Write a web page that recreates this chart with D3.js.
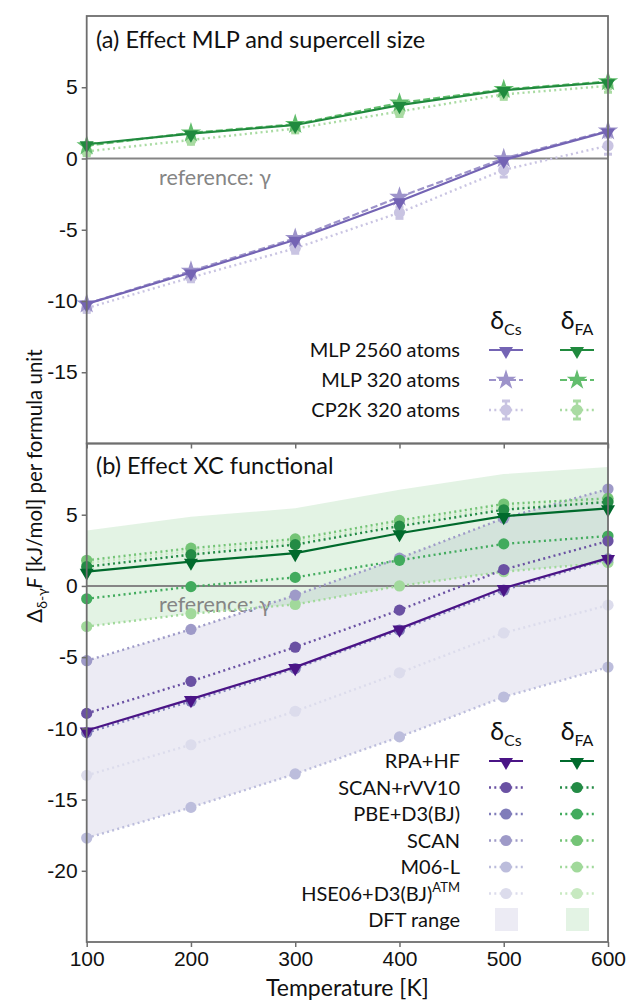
<!DOCTYPE html>
<html>
<head>
<meta charset="utf-8">
<script src="https://cdn.jsdelivr.net/npm/d3@7/dist/d3.min.js"></script>
<style>
  body { margin: 0; background: #fff; }
  svg { font-family: Lato, "Open Sans", "DejaVu Sans", sans-serif; }
</style>
</head>
<body>
<svg id="chart" width="629" height="1001"></svg>
<script>
// temperatures [K]
var temps = [100, 200, 300, 400, 500, 600];
var xTicks = [100, 200, 300, 400, 500, 600];
var yTicksA = [-15, -10, -5, 0, 5];
var yTicksB = [-20, -15, -10, -5, 0, 5];

// panel (a): effect of MLP and supercell size
var mlp2560Cs = [-10.2, -8.0, -5.7, -3.0, -0.1, 1.9];
var mlp2560FA = [1.0, 1.75, 2.35, 3.75, 4.8, 5.35];
var mlp320Cs  = [-10.2, -7.9, -5.6, -2.7, 0.0, 1.95];
var mlp320FA  = [0.9, 1.8, 2.4, 3.9, 4.85, 5.4];
var cp2kCs    = [-10.5, -8.35, -6.3, -3.8, -0.8, 0.9];
var cp2kFA    = [0.5, 1.3, 2.1, 3.3, 4.5, 5.1];
var cp2kErrCs = [0.3, 0.3, 0.35, 0.4, 0.5, 0.6];
var cp2kErrFA = [0.3, 0.3, 0.3, 0.35, 0.35, 0.45];
var legendA   = ["MLP 2560 atoms", "MLP 320 atoms", "CP2K 320 atoms"];

// panel (b): effect of XC functional
var rpaCs   = [-10.15, -7.95, -5.7, -3.0, -0.15, 1.95];
var rpaFA   = [1.0, 1.7, 2.3, 3.7, 4.9, 5.45];
var scanVVCs = [-8.95, -6.7, -4.3, -1.7, 1.15, 3.15];
var scanVVFA = [1.35, 2.2, 2.9, 4.2, 5.35, 5.9];
var pbeCs   = [-10.3, -8.1, -5.8, -3.1, -0.3, 1.9];
var pbeFA   = [-0.9, -0.05, 0.6, 1.8, 2.95, 3.5];
var scanCs  = [-5.25, -3.05, -0.65, 1.95, 4.75, 6.8];
var scanFA  = [1.8, 2.65, 3.3, 4.6, 5.75, 6.15];
var m06Cs   = [-17.7, -15.55, -13.2, -10.6, -7.8, -5.7];
var m06FA   = [-2.85, -1.95, -1.3, 0.0, 1.0, 1.65];
var hseCs   = [-13.3, -11.15, -8.8, -6.1, -3.3, -1.35];
var hseFA   = [1.6, 2.45, 3.1, 4.4, 5.55, 6.0];
var dftLowCs  = m06Cs;
var dftHighCs = scanCs;
var dftLowFA  = m06FA;
var dftHighFA = [3.9, 4.85, 5.45, 6.75, 7.85, 8.35];
var legendB = ["RPA+HF", "SCAN+rVV10", "PBE+D3(BJ)", "SCAN", "M06-L", "HSE06+D3(BJ)", "DFT range"];

var svg = d3.select("#chart");

var x = d3.scaleLinear().domain([100, 600]).range([86.7, 608]);
var yA = d3.scaleLinear().domain([-20, 10]).range([443.5, 16]);
var yB = d3.scaleLinear().domain([-25, 10]).range([942, 443.5]);

var axisGray = "#6e6e6e";
var refGray = "#858585";
var fsTick = 21, fsLegend = 20, fsTitle = 23.5, fsLabel = 23;

var triDown = d3.symbol().type(d3.symbolTriangle).size(85);
var star = d3.symbol().type(d3.symbolStar).size(130);

function drawMarker(g, shape, cx, cy, color) {
  if (shape == "tri") {
    g.append("path").attr("d", triDown())
      .attr("transform", "translate(" + cx + "," + (cy + 1) + ") rotate(180)")
      .attr("fill", color);
  } else if (shape == "star") {
    g.append("path").attr("d", star())
      .attr("transform", "translate(" + cx + "," + cy + ")")
      .attr("fill", color);
  } else {
    g.append("circle").attr("cx", cx).attr("cy", cy).attr("r", 5.6).attr("fill", color);
  }
}

function dashFor(style) {
  if (style == "dash") return "7,3";
  if (style == "dot") return "2,3.3";
  return null;
}

function drawSeries(g, y, vals, color, style, shape, err) {
  var line = d3.line().x(function(d, i) { return x(temps[i]); }).y(function(d) { return y(d); });
  g.append("path").datum(vals)
    .attr("d", line)
    .attr("fill", "none")
    .attr("stroke", color)
    .attr("stroke-width", style == "dot" ? 2.4 : 2.2)
    .attr("stroke-dasharray", dashFor(style));
  if (err) {
    vals.forEach(function(v, i) {
      var cx = x(temps[i]);
      g.append("line").attr("x1", cx).attr("x2", cx)
        .attr("y1", y(v - err[i])).attr("y2", y(v + err[i]))
        .attr("stroke", color).attr("stroke-width", 2.5);
      [v - err[i], v + err[i]].forEach(function(e) {
        g.append("line").attr("x1", cx - 4).attr("x2", cx + 4)
          .attr("y1", y(e)).attr("y2", y(e))
          .attr("stroke", color).attr("stroke-width", 3);
      });
    });
  }
  vals.forEach(function(v, i) {
    drawMarker(g, shape, x(temps[i]), y(v), color);
  });
}

function drawFrame(y, top, bottom, ticks, showX) {
  var g = svg.append("g");
  var yAxis = d3.axisLeft(y).tickValues(ticks).tickSize(5).tickPadding(4)
    .tickFormat(function(d) { return d < 0 ? "-" + Math.abs(d) : d; });
  var ga = g.append("g").attr("transform", "translate(" + x.range()[0] + ",0)").call(yAxis);
  ga.select(".domain").remove();
  ga.selectAll("line").attr("stroke", axisGray).attr("stroke-width", 1.5);
  ga.selectAll("text").attr("font-size", fsTick).attr("fill", "#111").attr("font-family", null);

  var xAxis = d3.axisBottom(x).tickValues(xTicks).tickSize(5).tickPadding(4)
    .tickFormat(showX ? d3.format("d") : "");
  var gx = g.append("g").attr("transform", "translate(0," + bottom + ")").call(xAxis);
  gx.select(".domain").remove();
  gx.selectAll("line").attr("stroke", axisGray).attr("stroke-width", 1.5);
  gx.selectAll("text").attr("font-size", fsTick).attr("fill", "#111").attr("font-family", null);

  g.append("rect")
    .attr("x", x.range()[0]).attr("y", top)
    .attr("width", x.range()[1] - x.range()[0]).attr("height", bottom - top)
    .attr("fill", "none").attr("stroke", axisGray).attr("stroke-width", 1.8);
}

function refLine(g, y, labelY) {
  g.append("line")
    .attr("x1", x(100)).attr("x2", x(600))
    .attr("y1", y(0)).attr("y2", y(0))
    .attr("stroke", refGray).attr("stroke-width", 2);
  g.append("text").attr("x", 159).attr("y", labelY)
    .attr("font-size", 21.5).attr("fill", refGray)
    .text("reference: \u03b3");
}

function legendHeader(g, cx, yb) {
  [["Cs", cx], ["FA", cx + 71]].forEach(function(h) {
    var t = g.append("text").attr("x", h[1]).attr("y", yb)
      .attr("text-anchor", "middle").attr("font-size", 25).attr("fill", "#111");
    t.append("tspan").text("\u03b4");
    t.append("tspan").attr("font-size", 16).attr("dy", 6).text(h[0]);
  });
}

function legendRow(g, cx, ry, label, cColor, fColor, style, shape, err) {
  g.append("text").attr("x", 460).attr("y", ry).attr("dy", "0.36em")
    .attr("text-anchor", "end").attr("font-size", fsLegend).attr("fill", "#111")
    .text(label);
  [[cx, cColor], [cx + 71, fColor]].forEach(function(h) {
    g.append("line").attr("x1", h[0] - 17).attr("x2", h[0] + 17)
      .attr("y1", ry).attr("y2", ry)
      .attr("stroke", h[1]).attr("stroke-width", style == "dot" ? 2.4 : 2.2)
      .attr("stroke-dasharray", dashFor(style));
    if (err) {
      g.append("line").attr("x1", h[0]).attr("x2", h[0]).attr("y1", ry - 9).attr("y2", ry + 9)
        .attr("stroke", h[1]).attr("stroke-width", 2.5);
      [ry - 9, ry + 9].forEach(function(e) {
        g.append("line").attr("x1", h[0] - 4).attr("x2", h[0] + 4).attr("y1", e).attr("y2", e)
          .attr("stroke", h[1]).attr("stroke-width", 3);
      });
    }
    drawMarker(g, shape, h[0], ry, h[1]);
  });
}

// ---------- panel (a) ----------
var pa = svg.append("g");
refLine(pa, yA, 185);
drawSeries(pa, yA, cp2kCs, "#c9c4e2", "dot", "circle", cp2kErrCs);
drawSeries(pa, yA, cp2kFA, "#a9dba2", "dot", "circle", cp2kErrFA);
drawSeries(pa, yA, mlp320Cs, "#9d93ca", "dash", "star");
drawSeries(pa, yA, mlp320FA, "#62bd6d", "dash", "star");
drawSeries(pa, yA, mlp2560Cs, "#7464b4", "solid", "tri");
drawSeries(pa, yA, mlp2560FA, "#208a3e", "solid", "tri");
drawFrame(yA, 16, 443.5, yTicksA, false);
pa.append("text").attr("x", 96).attr("y", 48).attr("font-size", fsTitle).attr("fill", "#111")
  .text("(a) Effect MLP and supercell size");

legendHeader(pa, 506, 329);
legendRow(pa, 506, 350, legendA[0], "#7464b4", "#208a3e", "solid", "tri");
legendRow(pa, 506, 380, legendA[1], "#9d93ca", "#62bd6d", "dash", "star");
legendRow(pa, 506, 410, legendA[2], "#c9c4e2", "#a9dba2", "dot", "circle", true);

// ---------- panel (b) ----------
var pb = svg.append("g");
var area = function(lo, hi) {
  return d3.area().x(function(d, i) { return x(temps[i]); })
    .y0(function(d, i) { return yB(lo[i]); })
    .y1(function(d, i) { return yB(hi[i]); })(temps);
};
pb.append("path").attr("d", area(dftLowCs, dftHighCs)).attr("fill", "#9e9ac8").attr("fill-opacity", 0.2);
pb.append("path").attr("d", area(dftLowFA, dftHighFA)).attr("fill", "#74c476").attr("fill-opacity", 0.2);
refLine(pb, yB, 612);

var dftSeries = [
  [hseCs, hseFA, "#dcdcec", "#c7e9c0"],
  [m06Cs, m06FA, "#bcbddc", "#a1d99b"],
  [scanCs, scanFA, "#9e9ac8", "#74c476"],
  [pbeCs, pbeFA, "#807dba", "#41ab5d"],
  [scanVVCs, scanVVFA, "#6a51a3", "#238b45"]
];
dftSeries.forEach(function(s) {
  drawSeries(pb, yB, s[0], s[2], "dot", "circle");
  drawSeries(pb, yB, s[1], s[3], "dot", "circle");
});
drawSeries(pb, yB, rpaCs, "#4a1486", "solid", "tri");
drawSeries(pb, yB, rpaFA, "#006a2c", "solid", "tri");
drawFrame(yB, 443.5, 942, yTicksB, true);
pb.append("text").attr("x", 96).attr("y", 474).attr("font-size", fsTitle).attr("fill", "#111")
  .text("(b) Effect XC functional");

legendHeader(pb, 506, 740);
var rowsB = [761, 787.5, 814, 840.5, 867, 893.5];
legendRow(pb, 506, rowsB[0], legendB[0], "#4a1486", "#006a2c", "solid", "tri");
dftSeries.slice().reverse().forEach(function(s, i) {
  legendRow(pb, 506, rowsB[i + 1], legendB[i + 1], s[2], s[3], "dot", "circle");
});
// superscript on HSE06 label
pb.selectAll("text").filter(function() { return d3.select(this).text() == "HSE06+D3(BJ)"; })
  .text("HSE06+D3(BJ)").append("tspan").attr("dy", -9).attr("font-size", 13).text("ATM");
pb.append("text").attr("x", 460).attr("y", 920).attr("dy", "0.36em")
  .attr("text-anchor", "end").attr("font-size", fsLegend).attr("fill", "#111").text(legendB[6]);
pb.append("rect").attr("x", 495).attr("y", 908).attr("width", 23).attr("height", 23)
  .attr("fill", "#9e9ac8").attr("fill-opacity", 0.2);
pb.append("rect").attr("x", 566).attr("y", 908).attr("width", 23).attr("height", 23)
  .attr("fill", "#74c476").attr("fill-opacity", 0.2);

// axis titles
svg.append("text").attr("x", x(350)).attr("y", 996).attr("text-anchor", "middle")
  .attr("font-size", fsLabel).attr("fill", "#111").text("Temperature [K]");

var yl = svg.append("text").attr("transform", "translate(42,486) rotate(-90)")
  .attr("text-anchor", "middle").attr("font-size", 20.5).attr("fill", "#111");
yl.append("tspan").text("\u0394");
yl.append("tspan").attr("font-size", 14).attr("dy", 5).text("\u03b4-\u03b3");
yl.append("tspan").attr("dy", -5).attr("font-style", "italic").text("F");
yl.append("tspan").text(" [kJ/mol] per formula unit");
</script>
</body>
</html>
